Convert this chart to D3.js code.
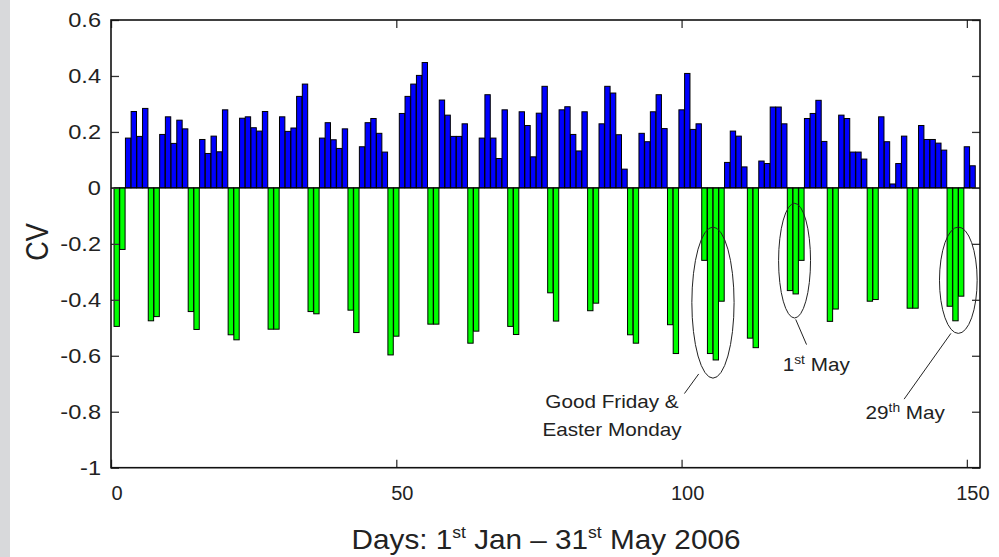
<!DOCTYPE html>
<html>
<head>
<meta charset="utf-8">
<script src="https://cdn.jsdelivr.net/npm/d3@7/dist/d3.min.js"></script>
<style>
  html, body { margin: 0; padding: 0; background: #fff; }
  svg { display: block; }
  text { font-family: "Liberation Sans", Arial, Helvetica, sans-serif; fill: #222; }
</style>
</head>
<body>
<svg id="chart" width="999" height="557"></svg>
<script>
// ---- data ----
// day index (1 Jan 2006 = 1 ... 31 May 2006 = 151)
const days = d3.range(1, 152);
// coefficient of variation per day
const cv = [
  -0.495, -0.22, 0.178, 0.273, 0.184, 0.284, -0.475,
  -0.46, 0.191, 0.254, 0.159, 0.242, 0.211, -0.442,
  -0.506, 0.173, 0.123, 0.185, 0.129, 0.279, -0.525,
  -0.543, 0.249, 0.254, 0.215, 0.203, 0.273, -0.505,
  -0.505, 0.254, 0.202, 0.214, 0.327, 0.371, -0.442,
  -0.45, 0.178, 0.233, 0.172, 0.141, 0.211, -0.437,
  -0.517, 0.147, 0.233, 0.248, 0.195, 0.128, -0.597,
  -0.53, 0.266, 0.327, 0.371, 0.402, 0.448, -0.487,
  -0.487, 0.314, 0.26, 0.184, 0.184, 0.229, -0.555,
  -0.512, 0.178, 0.333, 0.178, 0.105, 0.279, -0.495,
  -0.524, 0.272, 0.223, 0.111, 0.267, 0.363, -0.375,
  -0.476, 0.279, 0.29, 0.191, 0.132, 0.272, -0.439,
  -0.412, 0.229, 0.363, 0.339, 0.19, 0.067, -0.525,
  -0.555, 0.195, 0.165, 0.272, 0.333, 0.212, -0.489,
  -0.592, 0.279, 0.409, 0.209, 0.229, -0.259, -0.592,
  -0.615, -0.405, 0.091, 0.203, 0.185, 0.075, -0.537,
  -0.571, 0.096, 0.087, 0.289, 0.289, 0.229, -0.367,
  -0.379, -0.259, 0.248, 0.266, 0.313, 0.166, -0.477,
  -0.433, 0.26, 0.248, 0.128, 0.128, 0.103, -0.405,
  -0.399, 0.254, 0.165, 0.014, 0.087, 0.185, -0.43,
  -0.43, 0.223, 0.173, 0.173, 0.16, 0.135, -0.423,
  -0.475, -0.387, 0.147, 0.079
];
const xTicks = [0, 50, 100, 150];
const yTicks = [0.6, 0.4, 0.2, 0, -0.2, -0.4, -0.6, -0.8, -1];
const yTickLabels = ["0.6", "0.4", "0.2", "0", "-0.2", "-0.4", "-0.6", "-0.8", "-1"];
// annotation ellipses: centre (day, cv) and radii (days, cv)
const notes = [
  { day: 105.5, cv: -0.41, rxDays: 3.7, ryCv: 0.27 },
  { day: 119.8, cv: -0.26, rxDays: 2.8, ryCv: 0.205 },
  { day: 148.5, cv: -0.33, rxDays: 3.3, ryCv: 0.19 }
];

// ---- layout ----
const svg = d3.select("#chart");
const W = 999, H = 557;
const plot = { left: 111, right: 980, top: 20, bottom: 467.7 };

svg.append("rect").attr("x", 0).attr("y", 0).attr("width", 10).attr("height", H).attr("fill", "#d8d9db");

const x = d3.scaleLinear().domain([0, 152.3]).range([plot.left, plot.right]);
const y = d3.scaleLinear().domain([-1, 0.6]).range([plot.bottom, plot.top]);
const bw = (x(1) - x(0)) * 0.94;

const data = days.map((d, i) => ({ day: d, v: cv[i] }));

// bars
svg.append("g").selectAll("rect").data(data).join("rect")
  .attr("x", d => x(d.day) - bw / 2)
  .attr("width", bw)
  .attr("y", d => y(Math.max(0, d.v)))
  .attr("height", d => Math.abs(y(d.v) - y(0)))
  .attr("fill", d => d.v >= 0 ? "#0000ff" : "#00ff00")
  .attr("stroke", "#000")
  .attr("stroke-width", 1);

// zero line
svg.append("line").attr("x1", plot.left).attr("x2", plot.right)
  .attr("y1", y(0)).attr("y2", y(0)).attr("stroke", "#000").attr("stroke-width", 1);

// axes (ticks inward, box)
const tickLen = 8;
const axL = d3.axisLeft(y).tickValues(yTicks).tickSize(-tickLen).tickFormat("");
const axR = d3.axisRight(y).tickValues(yTicks).tickSize(-tickLen).tickFormat("");
const axB = d3.axisBottom(x).tickValues(xTicks).tickSize(-tickLen).tickFormat("");
const axT = d3.axisTop(x).tickValues(xTicks).tickSize(-tickLen).tickFormat("");
[[axL, `translate(${plot.left},0)`], [axR, `translate(${plot.right},0)`],
 [axB, `translate(0,${plot.bottom})`], [axT, `translate(0,${plot.top})`]].forEach(([ax, tr]) => {
  const g = svg.append("g").attr("transform", tr).call(ax);
  g.select(".domain").remove();
  g.selectAll(".tick line").attr("stroke", "#333").attr("stroke-width", 1.3);
});
svg.append("rect").attr("x", plot.left).attr("y", plot.top)
  .attr("width", plot.right - plot.left).attr("height", plot.bottom - plot.top)
  .attr("fill", "none").attr("stroke", "#111").attr("stroke-width", 1.6);

// y tick labels
svg.append("g").selectAll("text").data(yTicks).join("text")
  .attr("transform", d => `translate(101,${y(d) + 7}) scale(1.18,1)`)
  .attr("text-anchor", "end")
  .attr("font-size", 20)
  .text((d, i) => yTickLabels[i]);

// x tick labels
svg.append("g").selectAll("text").data(xTicks).join("text")
  .attr("transform", d => `translate(${x(d) + 6},${plot.bottom + 32})`)
  .attr("text-anchor", "middle")
  .attr("font-size", 20)
  .text(d => d);

// axis titles
svg.append("text")
  .attr("transform", `translate(48,242) rotate(-90) scale(1,1.15)`)
  .attr("text-anchor", "middle").attr("font-size", 27).text("CV");

const xt = svg.append("text")
  .attr("transform", `translate(546,549) scale(1.1,1)`)
  .attr("text-anchor", "middle").attr("font-size", 27);
xt.append("tspan").text("Days: 1");
xt.append("tspan").attr("dy", -11).attr("font-size", 16).text("st");
xt.append("tspan").attr("dy", 11).text(" Jan \u2013 31");
xt.append("tspan").attr("dy", -11).attr("font-size", 16).text("st");
xt.append("tspan").attr("dy", 11).text(" May 2006");

// annotations
const ann = svg.append("g");
const pxPerDay = x(1) - x(0);
const pxPerCv = y(0) - y(1);
notes.forEach(n => {
  ann.append("ellipse")
    .attr("cx", x(n.day)).attr("cy", y(n.cv))
    .attr("rx", n.rxDays * pxPerDay).attr("ry", n.ryCv * pxPerCv)
    .attr("fill", "none").attr("stroke", "#222").attr("stroke-width", 1);
});
const leaders = [
  { from: [103.0, -0.665], to: [100.5, -0.735] },
  { from: [120.0, -0.47], to: [121.9, -0.56] },
  { from: [147.2, -0.52], to: [139.0, -0.755] }
];
leaders.forEach(l => {
  ann.append("line")
    .attr("x1", x(l.from[0])).attr("y1", y(l.from[1]))
    .attr("x2", x(l.to[0])).attr("y2", y(l.to[1]))
    .attr("stroke", "#222").attr("stroke-width", 1);
});
const fs = 18;
const gf = ann.append("text").attr("text-anchor", "middle").attr("font-size", fs)
  .attr("transform", `translate(${x(87.8)},${y(-0.788)}) scale(1.15,1)`);
gf.append("tspan").attr("x", 0).text("Good Friday &");
gf.append("tspan").attr("x", 0).attr("dy", 28).text("Easter Monday");

const m1 = ann.append("text").attr("text-anchor", "middle").attr("font-size", fs)
  .attr("transform", `translate(${x(123.6)},${y(-0.655)}) scale(1.15,1)`);
m1.append("tspan").text("1");
m1.append("tspan").attr("dy", -7).attr("font-size", 12).text("st");
m1.append("tspan").attr("dy", 7).text(" May");

const m29 = ann.append("text").attr("text-anchor", "middle").attr("font-size", fs)
  .attr("transform", `translate(${x(139.2)},${y(-0.825)}) scale(1.15,1)`);
m29.append("tspan").text("29");
m29.append("tspan").attr("dy", -7).attr("font-size", 12).text("th");
m29.append("tspan").attr("dy", 7).text(" May");
</script>
</body>
</html>
